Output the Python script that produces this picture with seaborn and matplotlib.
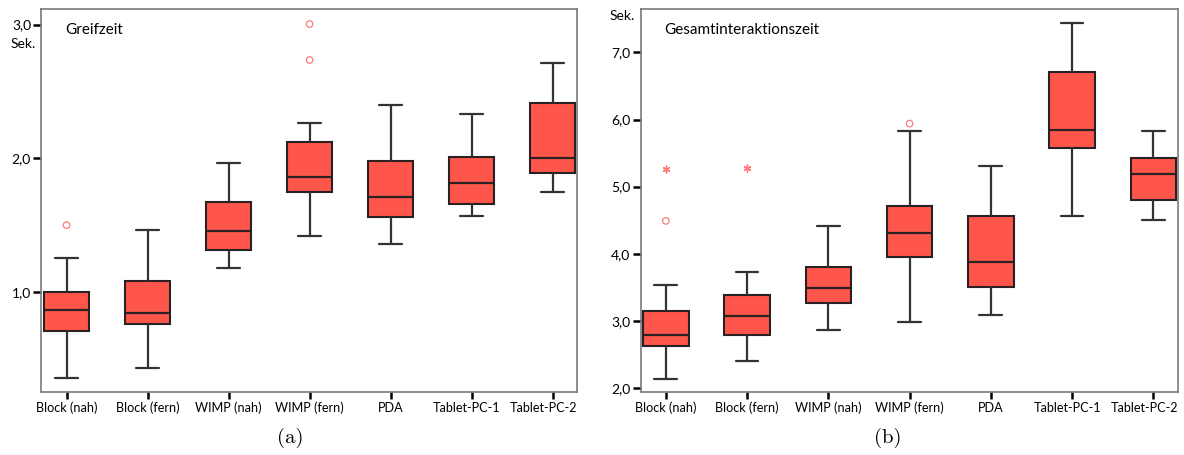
import numpy as np
import pandas as pd
import matplotlib
matplotlib.use("Agg")
import matplotlib.pyplot as plt
import matplotlib.transforms as mtransforms
import seaborn as sns

categories = ["Block (nah)", "Block (fern)", "WIMP (nah)", "WIMP (fern)",
              "PDA", "Tablet-PC-1", "Tablet-PC-2"]

# Panel (a): Greifzeit  -- five-number summaries
a_lo  = [0.355, 0.434, 1.18, 1.42, 1.357, 1.57, 1.748]
a_q1  = [0.71, 0.76, 1.317, 1.746, 1.563, 1.658, 1.89]
a_med = [0.865, 0.84, 1.456, 1.858, 1.708, 1.813, 2.0]
a_q3  = [1.0, 1.085, 1.676, 2.12, 1.982, 2.012, 2.414]
a_hi  = [1.254, 1.46, 1.965, 2.264, 2.40, 2.334, 2.71]
a_out_cat = ["Block (nah)", "WIMP (fern)", "WIMP (fern)"]
a_out_val = [1.50, 2.735, 3.004]
a_ext_cat = []
a_ext_val = []

# Panel (b): Gesamtinteraktionszeit
b_lo  = [2.134, 2.40, 2.87, 2.98, 3.085, 4.57, 4.497]
b_q1  = [2.63, 2.79, 3.269, 3.95, 3.507, 5.58, 4.80]
b_med = [2.796, 3.065, 3.488, 4.313, 3.87, 5.846, 5.187]
b_q3  = [3.154, 3.383, 3.796, 4.71, 4.57, 6.706, 5.42]
b_hi  = [3.527, 3.727, 4.413, 5.825, 5.31, 7.433, 5.825]
b_out_cat = ["Block (nah)", "WIMP (fern)"]
b_out_val = [4.49, 5.94]
b_ext_cat = ["Block (nah)", "Block (fern)"]
b_ext_val = [5.26, 5.273]

a_yticks = [1.0, 2.0, 3.0]
a_yticklabels = ["1,0", "2,0", "3,0"]
b_yticks = [2.0, 3.0, 4.0, 5.0, 6.0, 7.0]
b_yticklabels = ["2,0", "3,0", "4,0", "5,0", "6,0", "7,0"]

sns.set_style("ticks")
plt.rcParams["font.family"] = ["Lato", "DejaVu Sans"]
plt.rcParams["text.color"] = "black"
plt.rcParams["xtick.color"] = "black"
plt.rcParams["ytick.color"] = "black"

BOX = "#FF564B"
EDGE = "#2a2222"
OUTC = "#FF7A7A"


def long_df(lo, q1, med, q3, hi):
    rows = []
    for c, *vals in zip(categories, lo, q1, med, q3, hi):
        for v in vals:
            rows.append({"cat": c, "val": v})
    return pd.DataFrame(rows)


fig = plt.figure(figsize=(11.84, 4.55), dpi=100)
axa = fig.add_axes([0.035, 0.1385, 0.4523, 0.8418])
axb = fig.add_axes([0.5411, 0.1385, 0.4536, 0.8418])


def shift(label, dx_px):
    label.set_transform(label.get_transform() +
                        mtransforms.ScaledTranslation(dx_px / 100, 0, fig.dpi_scale_trans))


def draw(ax, df, out_cat, out_val, ext_cat, ext_val, ylim, yt, ytl, title):
    sns.boxplot(data=df, x="cat", y="val", order=categories, ax=ax,
                whis=(0, 100), width=0.56, color=BOX, saturation=1,
                linecolor=EDGE, linewidth=1.5, showfliers=False,
                boxprops=dict(edgecolor=EDGE, facecolor=BOX),
                whiskerprops=dict(color="#333333", linewidth=1.6),
                capprops=dict(color="#333333", linewidth=1.6),
                medianprops=dict(color=EDGE, linewidth=1.6))
    if out_cat:
        ax.scatter([categories.index(c) for c in out_cat], out_val, s=22,
                   facecolors="none", edgecolors=OUTC, linewidths=0.9, zorder=5)
    if ext_cat:
        ax.scatter([categories.index(c) for c in ext_cat], ext_val, s=24,
                   marker=(6, 2, 0), color=OUTC, linewidths=1.0, zorder=5)
    ax.set_xlim(-0.31, 6.3)
    ax.set_ylim(*ylim)
    ax.set_yticks(yt)
    ax.set_yticklabels(ytl)
    ax.set_xlabel("")
    ax.set_ylabel("")
    for s in ax.spines.values():
        s.set_visible(True)
        s.set_color("#7a7a7a")
        s.set_linewidth(1.2)
    ax.tick_params(axis="y", length=5.5, width=1.8, color="black",
                   labelsize=10, pad=2)
    ax.tick_params(axis="x", length=5, width=1.8, color="black",
                   labelsize=9.1, pad=2)
    labels = ax.get_xticklabels()
    # last category label sits flush with the right frame, as in the original
    labels[-1].set_horizontalalignment("right")
    shift(labels[-1], 24.5)
    shift(labels[-2], -5)
    ax.text(0.044, 0.945, title, transform=ax.transAxes, fontsize=11,
            ha="left", va="center")


draw(axa, long_df(a_lo, a_q1, a_med, a_q3, a_hi), a_out_cat, a_out_val,
     a_ext_cat, a_ext_val, (0.252, 3.117), a_yticks, a_yticklabels, "Greifzeit")
draw(axb, long_df(b_lo, b_q1, b_med, b_q3, b_hi), b_out_cat, b_out_val,
     b_ext_cat, b_ext_val, (1.94, 7.648), b_yticks, b_yticklabels,
     "Gesamtinteraktionszeit")

fig.text(11 / 1184, 1 - 44 / 455, "Sek.", fontsize=10, ha="left", va="center")
fig.text(610 / 1184, 1 - 16 / 455, "Sek.", fontsize=10, ha="left", va="center")

fig.text(290 / 1184, 1 - 438 / 455, "(a)", fontsize=15, family=["cmr10", "DejaVu Serif"],
         ha="center", va="center")
fig.text(888 / 1184, 1 - 438 / 455, "(b)", fontsize=15, family=["cmr10", "DejaVu Serif"],
         ha="center", va="center")

fig.savefig("out.png", dpi=100)
